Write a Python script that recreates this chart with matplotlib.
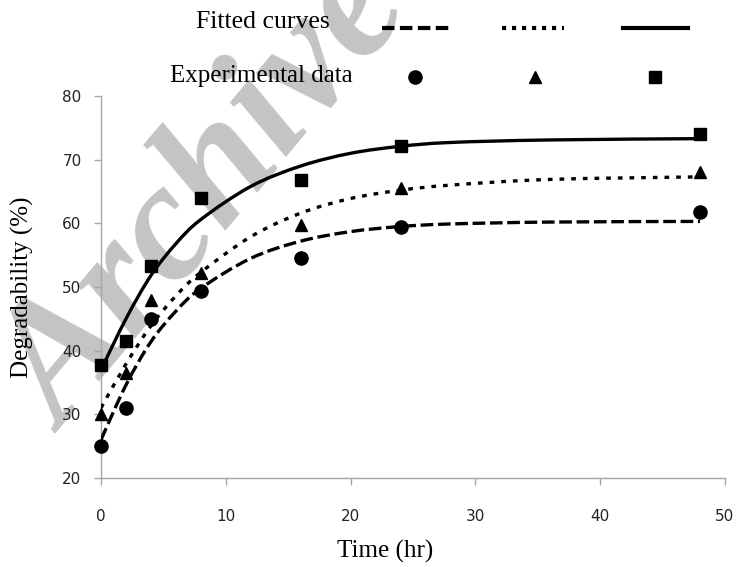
import matplotlib
matplotlib.use("Agg")
import matplotlib.pyplot as plt
from matplotlib.path import Path
from matplotlib.patches import PathPatch
from matplotlib.lines import Line2D
import numpy as np

# ---- data ----
time_hr = [0, 2, 4, 8, 16, 24, 48]
exp_circle = [25.0, 31.0, 45.0, 49.3, 54.5, 59.4, 61.8]
exp_triangle = [30.0, 36.5, 48.0, 52.2, 59.7, 65.5, 68.0]
exp_square = [37.7, 41.5, 53.3, 64.0, 66.8, 72.2, 74.0]

# fitted curves
fit_time = [0, 2, 4, 6, 8, 12, 16, 20, 24, 28, 36, 48]
fit_circle = [26.0, 34.6, 41.4, 46.2, 49.8, 54.5, 57.2, 58.7, 59.5, 59.9, 60.2, 60.3]
fit_triangle = [31.0, 37.9, 43.9, 48.6, 52.3, 57.9, 61.6, 63.9, 65.2, 66.0, 66.9, 67.3]
fit_square = [37.0, 45.0, 51.8, 56.8, 60.6, 65.8, 69.0, 71.0, 72.1, 72.7, 73.1, 73.3]

x_ticks = [0, 10, 20, 30, 40, 50]
y_ticks = [20, 30, 40, 50, 60, 70, 80]

W, H = 736, 567
fig = plt.figure(figsize=(W / 100, H / 100), dpi=100)
fig.patch.set_facecolor("white")

serif = ["Liberation Serif", "DejaVu Serif"]

# watermark
fig.text(208 / W, 1 - 198 / H, "Archive", rotation=50, fontsize=122,
         family=serif, weight="bold", style="italic", color="#c4c4c4",
         ha="center", va="center", zorder=-5)

ax = fig.add_axes([101 / W, 1 - 478 / H, (725 - 101) / W, (478 - 96) / H])
ax.set_zorder(2)
ax.set_facecolor("none")
ax.set_xlim(0, 50)
ax.set_ylim(20, 80)
ax.set_xticks(x_ticks)
ax.set_yticks(y_ticks)
for s in ["top", "right"]:
    ax.spines[s].set_visible(False)
for s in ["left", "bottom"]:
    ax.spines[s].set_color("#a6a6a6")
    ax.spines[s].set_linewidth(1.0)
ax.tick_params(axis="both", direction="out", length=5, width=1, color="#a6a6a6",
               labelsize=11, labelcolor="#222222")
ax.tick_params(axis="x", pad=17)
ax.tick_params(axis="y", pad=9)

fig.text(385 / W, 1 - 551 / H, "Time (hr)", family=serif, fontsize=18,
         ha="center", va="center")
fig.text(22 / W, 1 - 287 / H, "Degradability (%)", family=serif, fontsize=18,
         rotation=90, ha="center", va="center")


def smooth_path(xs, ys):
    pts = np.column_stack([xs, ys]).astype(float)
    n = len(pts)
    verts = [pts[0]]
    codes = [Path.MOVETO]
    for i in range(n - 1):
        p0 = pts[i - 1] if i > 0 else pts[i]
        p1 = pts[i]
        p2 = pts[i + 1]
        p3 = pts[i + 2] if i + 2 < n else pts[i + 1]
        c1 = p1 + (p2 - p0) / 6.0
        c2 = p2 - (p3 - p1) / 6.0
        verts += [c1, c2, p2]
        codes += [Path.CURVE4] * 3
    return Path(verts, codes)


styles = [
    (fit_circle, (0, (3.8, 1.4))),
    (fit_triangle, (0, (1.4, 2.1))),
    (fit_square, "solid"),
]
for fit, ls in styles:
    patch = PathPatch(smooth_path(fit_time, fit), facecolor="none", edgecolor="black",
                      lw=2.4, linestyle=ls, capstyle="butt", zorder=3)
    ax.add_patch(patch)

ax.plot(time_hr, exp_circle, "o", color="black", ms=9.5, zorder=4, clip_on=False)
ax.plot(time_hr, exp_triangle, "^", color="black", ms=9, zorder=4, clip_on=False)
ax.plot(time_hr, exp_square, "s", color="black", ms=8, zorder=4, clip_on=False)

# custom legend on top
fig.text(263 / W, 1 - 22 / H, "Fitted curves", family=serif, fontsize=18.5,
         ha="center", va="center")
fig.text(261 / W, 1 - 76 / H, "Experimental data", family=serif, fontsize=18,
         ha="center", va="center")
yl = 1 - 28 / H
fig.add_artist(Line2D([382 / W, 449 / W], [yl, yl], color="black", lw=3.0,
                      linestyle=(0, (3.0, 1.3)), transform=fig.transFigure))
fig.add_artist(Line2D([502 / W, 564 / W], [yl, yl], color="black", lw=3.0,
                      linestyle=(0, (1.0, 1.4)), transform=fig.transFigure))
fig.add_artist(Line2D([623 / W, 688 / W], [yl, yl], color="black", lw=3.0,
                      transform=fig.transFigure))
ym = 1 - 77 / H
fig.add_artist(Line2D([415 / W], [ym], marker="o", ms=9.5, color="black", linestyle="none",
                      transform=fig.transFigure))
fig.add_artist(Line2D([535 / W], [ym], marker="^", ms=9, color="black", linestyle="none",
                      transform=fig.transFigure))
fig.add_artist(Line2D([655 / W], [ym], marker="s", ms=8, color="black", linestyle="none",
                      transform=fig.transFigure))

fig.savefig("out.png", dpi=100)
